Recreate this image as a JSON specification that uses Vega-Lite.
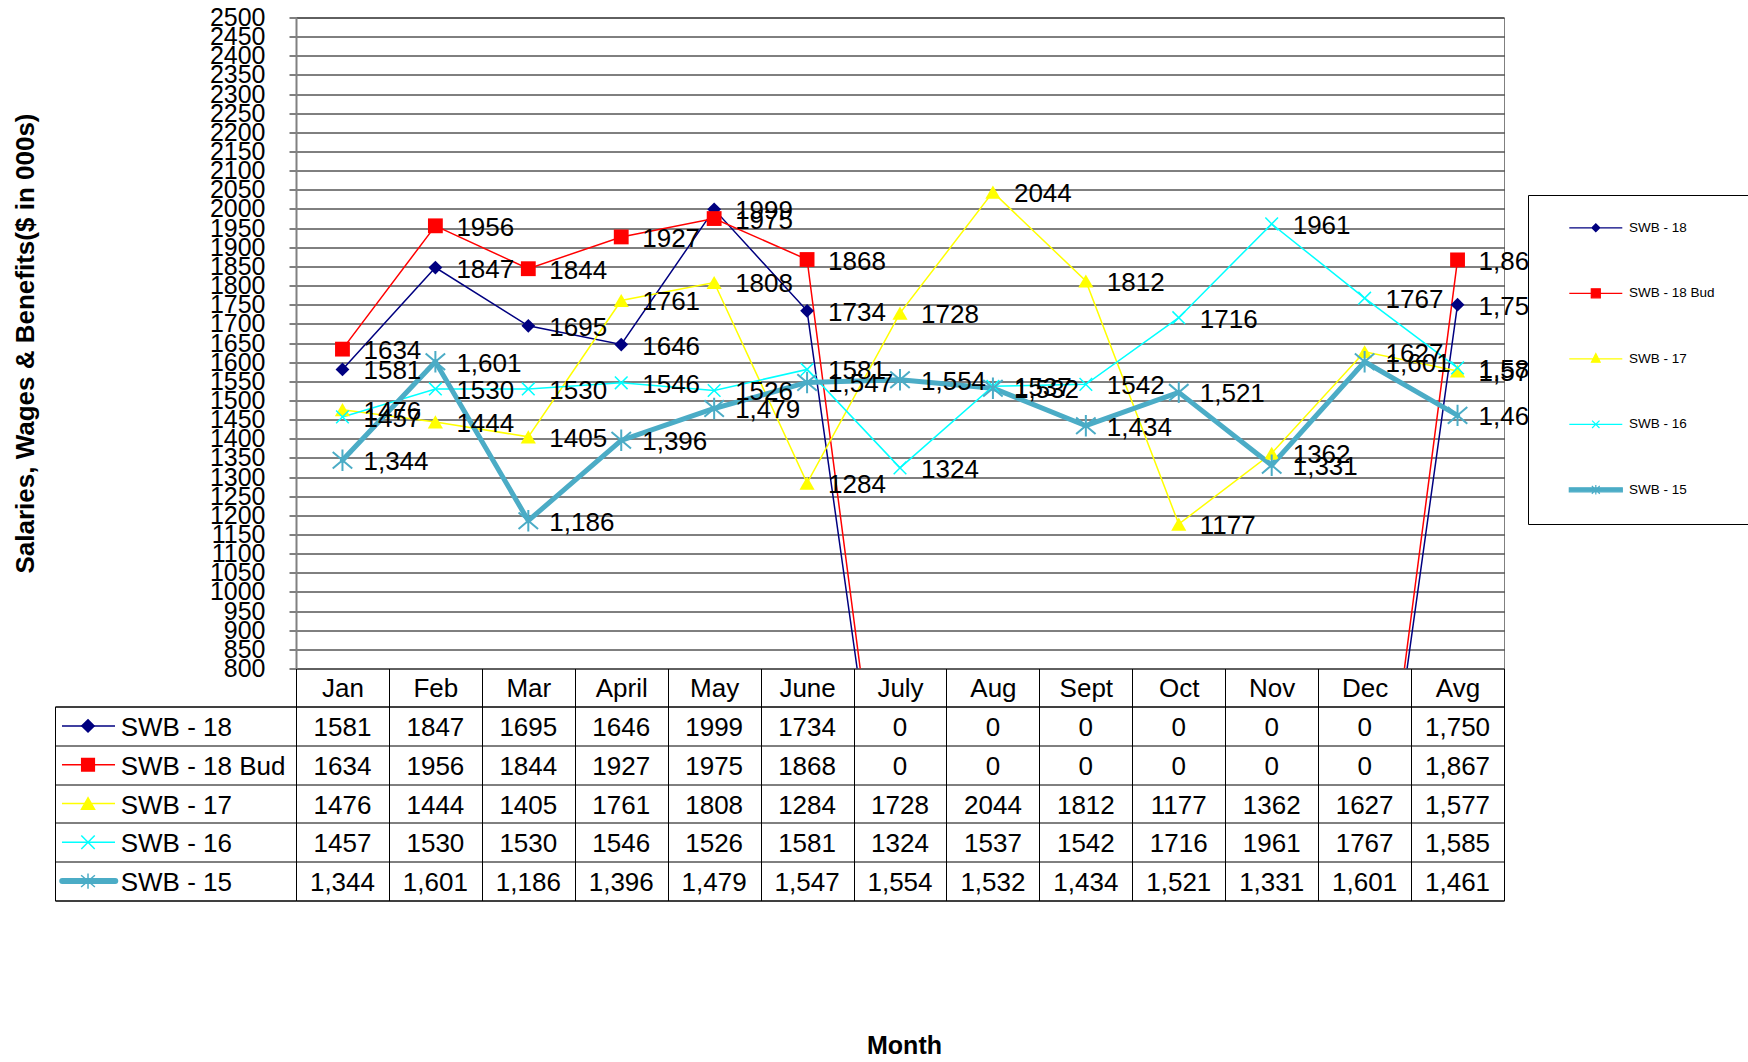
{
  "$schema": "https://vega.github.io/schema/vega-lite/v6.json",
  "background": "#ffffff",
  "padding": {"left": 11, "top": 4.5, "right": 0, "bottom": 0},
  "config": {
    "font": "Liberation Sans",
    "view": {"stroke": null},
    "axis": {"labelColor": "#000000", "titleColor": "#000000"}
  },
  "datasets": {
    "swb": [
      {"series": "SWB - 18", "month": "Jan", "value": 1581, "label": "1581"},
      {"series": "SWB - 18", "month": "Feb", "value": 1847, "label": "1847"},
      {"series": "SWB - 18", "month": "Mar", "value": 1695, "label": "1695"},
      {"series": "SWB - 18", "month": "April", "value": 1646, "label": "1646"},
      {"series": "SWB - 18", "month": "May", "value": 1999, "label": "1999"},
      {"series": "SWB - 18", "month": "June", "value": 1734, "label": "1734"},
      {"series": "SWB - 18", "month": "July", "value": 0, "label": "0"},
      {"series": "SWB - 18", "month": "Aug", "value": 0, "label": "0"},
      {"series": "SWB - 18", "month": "Sept", "value": 0, "label": "0"},
      {"series": "SWB - 18", "month": "Oct", "value": 0, "label": "0"},
      {"series": "SWB - 18", "month": "Nov", "value": 0, "label": "0"},
      {"series": "SWB - 18", "month": "Dec", "value": 0, "label": "0"},
      {"series": "SWB - 18", "month": "Avg", "value": 1750, "label": "1,750"},
      {"series": "SWB - 18 Bud", "month": "Jan", "value": 1634, "label": "1634"},
      {"series": "SWB - 18 Bud", "month": "Feb", "value": 1956, "label": "1956"},
      {"series": "SWB - 18 Bud", "month": "Mar", "value": 1844, "label": "1844"},
      {"series": "SWB - 18 Bud", "month": "April", "value": 1927, "label": "1927"},
      {"series": "SWB - 18 Bud", "month": "May", "value": 1975, "label": "1975"},
      {"series": "SWB - 18 Bud", "month": "June", "value": 1868, "label": "1868"},
      {"series": "SWB - 18 Bud", "month": "July", "value": 0, "label": "0"},
      {"series": "SWB - 18 Bud", "month": "Aug", "value": 0, "label": "0"},
      {"series": "SWB - 18 Bud", "month": "Sept", "value": 0, "label": "0"},
      {"series": "SWB - 18 Bud", "month": "Oct", "value": 0, "label": "0"},
      {"series": "SWB - 18 Bud", "month": "Nov", "value": 0, "label": "0"},
      {"series": "SWB - 18 Bud", "month": "Dec", "value": 0, "label": "0"},
      {"series": "SWB - 18 Bud", "month": "Avg", "value": 1867, "label": "1,867"},
      {"series": "SWB - 17", "month": "Jan", "value": 1476, "label": "1476"},
      {"series": "SWB - 17", "month": "Feb", "value": 1444, "label": "1444"},
      {"series": "SWB - 17", "month": "Mar", "value": 1405, "label": "1405"},
      {"series": "SWB - 17", "month": "April", "value": 1761, "label": "1761"},
      {"series": "SWB - 17", "month": "May", "value": 1808, "label": "1808"},
      {"series": "SWB - 17", "month": "June", "value": 1284, "label": "1284"},
      {"series": "SWB - 17", "month": "July", "value": 1728, "label": "1728"},
      {"series": "SWB - 17", "month": "Aug", "value": 2044, "label": "2044"},
      {"series": "SWB - 17", "month": "Sept", "value": 1812, "label": "1812"},
      {"series": "SWB - 17", "month": "Oct", "value": 1177, "label": "1177"},
      {"series": "SWB - 17", "month": "Nov", "value": 1362, "label": "1362"},
      {"series": "SWB - 17", "month": "Dec", "value": 1627, "label": "1627"},
      {"series": "SWB - 17", "month": "Avg", "value": 1577, "label": "1,577"},
      {"series": "SWB - 16", "month": "Jan", "value": 1457, "label": "1457"},
      {"series": "SWB - 16", "month": "Feb", "value": 1530, "label": "1530"},
      {"series": "SWB - 16", "month": "Mar", "value": 1530, "label": "1530"},
      {"series": "SWB - 16", "month": "April", "value": 1546, "label": "1546"},
      {"series": "SWB - 16", "month": "May", "value": 1526, "label": "1526"},
      {"series": "SWB - 16", "month": "June", "value": 1581, "label": "1581"},
      {"series": "SWB - 16", "month": "July", "value": 1324, "label": "1324"},
      {"series": "SWB - 16", "month": "Aug", "value": 1537, "label": "1537"},
      {"series": "SWB - 16", "month": "Sept", "value": 1542, "label": "1542"},
      {"series": "SWB - 16", "month": "Oct", "value": 1716, "label": "1716"},
      {"series": "SWB - 16", "month": "Nov", "value": 1961, "label": "1961"},
      {"series": "SWB - 16", "month": "Dec", "value": 1767, "label": "1767"},
      {"series": "SWB - 16", "month": "Avg", "value": 1585, "label": "1,585"},
      {"series": "SWB - 15", "month": "Jan", "value": 1344, "label": "1,344"},
      {"series": "SWB - 15", "month": "Feb", "value": 1601, "label": "1,601"},
      {"series": "SWB - 15", "month": "Mar", "value": 1186, "label": "1,186"},
      {"series": "SWB - 15", "month": "April", "value": 1396, "label": "1,396"},
      {"series": "SWB - 15", "month": "May", "value": 1479, "label": "1,479"},
      {"series": "SWB - 15", "month": "June", "value": 1547, "label": "1,547"},
      {"series": "SWB - 15", "month": "July", "value": 1554, "label": "1,554"},
      {"series": "SWB - 15", "month": "Aug", "value": 1532, "label": "1,532"},
      {"series": "SWB - 15", "month": "Sept", "value": 1434, "label": "1,434"},
      {"series": "SWB - 15", "month": "Oct", "value": 1521, "label": "1,521"},
      {"series": "SWB - 15", "month": "Nov", "value": 1331, "label": "1,331"},
      {"series": "SWB - 15", "month": "Dec", "value": 1601, "label": "1,601"},
      {"series": "SWB - 15", "month": "Avg", "value": 1461, "label": "1,461"}
    ]
  },
  "columns": 2,
  "spacing": {"row": 38, "column": 0},
  "bounds": "flush",
  "resolve": {
    "scale": {"color": "independent", "fill": "independent", "stroke": "independent", "shape": "independent", "size": "independent", "strokeWidth": "independent"},
    "legend": {"color": "independent", "fill": "independent", "stroke": "independent", "shape": "independent", "size": "independent", "strokeWidth": "independent"}
  },
  "concat": [
    {
      "width": 241,
      "height": 651,
      "data": {"name": "swb"},
      "transform": [{"filter": "datum.value < 0"}],
      "mark": {"type": "point", "opacity": 0}
    },
    {
      "width": 1208,
      "height": 651,
      "view": {"stroke": "#808080"},
      "data": {"name": "swb"},
      "encoding": {
        "x": {
          "field": "month", "type": "ordinal",
          "sort": ["Jan","Feb","Mar","April","May","June","July","Aug","Sept","Oct","Nov","Dec","Avg"],
          "scale": {"type": "band", "paddingInner": 0, "paddingOuter": 0},
          "axis": {"title": null, "orient": "bottom", "domain": false, "grid": false, "tickBand": "extent", "tickSize": 38, "tickColor": "#000000", "tickWidth": 1, "labelFontSize": 26, "labelAngle": 0, "labelPadding": -31, "labelBaseline": "top"}
        },
        "y": {
          "field": "value", "type": "quantitative",
          "scale": {"domain": [800, 2500], "nice": false, "zero": false},
          "axis": {
            "values": [800,850,900,950,1000,1050,1100,1150,1200,1250,1300,1350,1400,1450,1500,1550,1600,1650,1700,1750,1800,1850,1900,1950,2000,2050,2100,2150,2200,2250,2300,2350,2400,2450,2500],
            "format": "d", "labelOverlap": false, "labelFontSize": 25, "labelPadding": 24,
            "tickSize": 7, "tickColor": "#000000", "domainColor": "#808080", "domainWidth": 2,
            "grid": true, "gridColor": "#000000", "gridWidth": 1,
            "title": "Salaries, Wages & Benefits($ in 000s)", "titleFontSize": 26, "titleFontWeight": "bold", "titlePadding": 171
          }
        }
      },
      "layer": [
        {
          "transform": [{"filter": "datum.series !== 'SWB - 15'"}],
          "mark": {"type": "line", "clip": true, "strokeWidth": 1.5},
          "encoding": {
            "color": {"field": "series", "type": "nominal", "scale": {"domain": ["SWB - 18","SWB - 18 Bud","SWB - 17","SWB - 16"], "range": ["#000080","#FF0000","#FFFF00","#00FFFF"]}, "legend": null}
          }
        },
        {
          "transform": [{"filter": "datum.series === 'SWB - 15'"}],
          "mark": {"type": "line", "clip": true, "strokeWidth": 5, "color": "#4BACC6", "strokeJoin": "round", "strokeCap": "round"}
        },
        {
          "transform": [{"filter": "datum.series === 'SWB - 18' && datum.value >= 800"}],
          "mark": {"type": "point", "shape": "diamond", "filled": true, "color": "#000080", "size": 190, "opacity": 1}
        },
        {
          "transform": [{"filter": "datum.series === 'SWB - 18 Bud' && datum.value >= 800"}],
          "mark": {"type": "point", "shape": "square", "filled": true, "color": "#FF0000", "size": 220, "opacity": 1}
        },
        {
          "transform": [{"filter": "datum.series === 'SWB - 17' && datum.value >= 800"}],
          "mark": {"type": "point", "shape": "triangle-up", "filled": true, "color": "#FFFF00", "size": 230, "opacity": 1}
        },
        {
          "transform": [{"filter": "datum.series === 'SWB - 16' && datum.value >= 800"}],
          "mark": {"type": "point", "shape": "M-1,-1L1,1M-1,1L1,-1", "filled": false, "color": "#00FFFF", "strokeWidth": 1.5, "size": 160, "opacity": 1}
        },
        {
          "transform": [{"filter": "datum.series === 'SWB - 15' && datum.value >= 800"}],
          "mark": {"type": "point", "shape": "M-1,-0.85L1,0.85M-1,0.85L1,-0.85M0,-1.1L0,1.1", "filled": false, "color": "#4BACC6", "strokeWidth": 2, "size": 380, "opacity": 1}
        },
        {
          "transform": [{"filter": "datum.value >= 800"}],
          "mark": {"type": "text", "align": "left", "baseline": "middle", "dx": 21, "dy": 2, "fontSize": 26, "color": "#000000"},
          "encoding": {"text": {"field": "label", "type": "nominal"}}
        },
        {
          "transform": [{"filter": "datum.value < 0"}],
          "mark": {"type": "point", "filled": true, "opacity": 1},
          "encoding": {
            "fill": {"field": "series", "type": "nominal", "scale": {"domain": ["SWB - 18","SWB - 18 Bud","SWB - 17","SWB - 16","SWB - 15"], "range": ["#000080","#FF0000","#FFFF00","#00FFFF","#4BACC6"]},
              "legend": {"orient": "none", "legendX": 1232, "legendY": 177.5, "title": null, "symbolSize": 2809, "symbolStrokeWidth": 1.2, "padding": 5.3, "rowPadding": 6.5, "symbolOffset": 35, "labelOffset": 5.7, "labelFontSize": 13.5, "labelColor": "#000000", "strokeColor": "#000000", "fillColor": "#ffffff", "cornerRadius": 0}},
            "stroke": {"field": "series", "type": "nominal", "scale": {"domain": ["SWB - 18","SWB - 18 Bud","SWB - 17","SWB - 16","SWB - 15"], "range": ["#000080","#FF0000","#FFFF00","#00FFFF","#4BACC6"]},
              "legend": {"orient": "none", "legendX": 1232, "legendY": 177.5, "title": null, "symbolSize": 2809, "symbolStrokeWidth": 1.2, "padding": 5.3, "rowPadding": 6.5, "symbolOffset": 35, "labelOffset": 5.7, "labelFontSize": 13.5, "labelColor": "#000000", "strokeColor": "#000000", "fillColor": "#ffffff", "cornerRadius": 0}},
            "shape": {"field": "series", "type": "nominal", "scale": {"domain": ["SWB - 18","SWB - 18 Bud","SWB - 17","SWB - 16","SWB - 15"], "range": [
                "M0,-1M0,1M6.2,0M-1,0L1,0M-0.15,0L0,-0.15L0.15,0L0,0.15Z",
                "M0,-1M0,1M6.2,0M-1,0L1,0M-0.17,-0.17L0.17,-0.17L0.17,0.17L-0.17,0.17Z",
                "M0,-1M0,1M6.2,0M-1,0L1,0M0,-0.2L0.165,0.13L-0.165,0.13Z",
                "M0,-1M0,1M6.2,0M-1,0L1,0M-0.14,-0.14L0.14,0.14M-0.14,0.14L0.14,-0.14",
                "M0,-1M0,1M6.2,0M-1,-0.075L1,-0.075L1,0.075L-1,0.075ZM-0.15,-0.15L0.15,0.15M-0.15,0.15L0.15,-0.15M0,-0.18L0,0.18"]},
              "legend": {"orient": "none", "legendX": 1232, "legendY": 177.5, "title": null, "symbolSize": 2809, "symbolStrokeWidth": 1.2, "padding": 5.3, "rowPadding": 6.5, "symbolOffset": 35, "labelOffset": 5.7, "labelFontSize": 13.5, "labelColor": "#000000", "strokeColor": "#000000", "fillColor": "#ffffff", "cornerRadius": 0}}
          }
        }
      ]
    },
    {
      "width": 241,
      "height": 194,
      "view": {"stroke": "#000000"},
      "data": {"name": "swb"},
      "transform": [{"filter": "datum.month === 'Jan'"}],
      "encoding": {
        "y": {"field": "series", "type": "nominal", "sort": ["SWB - 18","SWB - 18 Bud","SWB - 17","SWB - 16","SWB - 15"],
          "scale": {"type": "band", "paddingInner": 0, "paddingOuter": 0},
          "axis": {"title": null, "labels": false, "ticks": false, "domain": false, "grid": true, "tickBand": "extent", "gridColor": "#000000"}}
      },
      "layer": [
        {
          "transform": [{"filter": "datum.series !== 'SWB - 15'"}],
          "mark": {"type": "rule", "strokeWidth": 1.5},
          "encoding": {
            "x": {"datum": 0.029, "type": "quantitative", "scale": {"domain": [0, 1], "nice": false, "zero": false}, "axis": null},
            "x2": {"datum": 0.249},
            "color": {"field": "series", "type": "nominal", "scale": {"domain": ["SWB - 18","SWB - 18 Bud","SWB - 17","SWB - 16"], "range": ["#000080","#FF0000","#FFFF00","#00FFFF"]}, "legend": null}
          }
        },
        {
          "transform": [{"filter": "datum.series === 'SWB - 15'"}],
          "mark": {"type": "rule", "strokeWidth": 6, "strokeCap": "round", "color": "#4BACC6"},
          "encoding": {
            "x": {"datum": 0.03, "type": "quantitative"},
            "x2": {"datum": 0.25}
          }
        },
        {
          "mark": {"type": "point", "opacity": 1, "strokeWidth": 1.5},
          "encoding": {
            "x": {"datum": 0.137, "type": "quantitative"},
            "shape": {"field": "series", "type": "nominal", "scale": {"domain": ["SWB - 18","SWB - 18 Bud","SWB - 17","SWB - 16","SWB - 15"], "range": ["diamond","square","triangle-up","M-1,-1L1,1M-1,1L1,-1","M-1,-0.85L1,0.85M-1,0.85L1,-0.85M0,-1.1L0,1.1"]}, "legend": null},
            "fill": {"field": "series", "type": "nominal", "scale": {"domain": ["SWB - 18","SWB - 18 Bud","SWB - 17","SWB - 16","SWB - 15"], "range": ["#000080","#FF0000","#FFFF00","#00FFFF","#4BACC6"]}, "legend": null},
            "stroke": {"field": "series", "type": "nominal", "scale": {"domain": ["SWB - 18","SWB - 18 Bud","SWB - 17","SWB - 16","SWB - 15"], "range": ["#000080","#FF0000","#FFFF00","#00FFFF","#4BACC6"]}, "legend": null},
            "size": {"field": "series", "type": "ordinal", "scale": {"domain": ["SWB - 18","SWB - 18 Bud","SWB - 17","SWB - 16","SWB - 15"], "range": [150, 190, 190, 216, 279]}, "legend": null}
          }
        },
        {
          "mark": {"type": "text", "align": "left", "baseline": "middle", "fontSize": 26, "dy": 2, "color": "#000000"},
          "encoding": {
            "x": {"datum": 0.2726, "type": "quantitative"},
            "text": {"field": "series", "type": "nominal"}
          }
        }
      ]
    },
    {
      "width": 1208,
      "height": 194,
      "view": {"stroke": "#000000"},
      "data": {"name": "swb"},
      "mark": {"type": "text", "fontSize": 26, "baseline": "middle", "dy": 2, "color": "#000000"},
      "encoding": {
        "x": {"field": "month", "type": "ordinal",
          "sort": ["Jan","Feb","Mar","April","May","June","July","Aug","Sept","Oct","Nov","Dec","Avg"],
          "scale": {"type": "band", "paddingInner": 0, "paddingOuter": 0},
          "axis": {"orient": "bottom", "grid": true, "tickBand": "extent", "labels": false, "ticks": false, "domain": false, "gridColor": "#000000",
            "title": "Month", "titleFontSize": 25, "titleFontWeight": "bold", "titlePadding": 133, "titleX": 608}},
        "y": {"field": "series", "type": "nominal", "sort": ["SWB - 18","SWB - 18 Bud","SWB - 17","SWB - 16","SWB - 15"],
          "scale": {"type": "band", "paddingInner": 0, "paddingOuter": 0},
          "axis": {"title": null, "labels": false, "ticks": false, "domain": false, "grid": true, "tickBand": "extent", "gridColor": "#000000"}},
        "text": {"field": "label", "type": "nominal"}
      }
    }
  ]
}
